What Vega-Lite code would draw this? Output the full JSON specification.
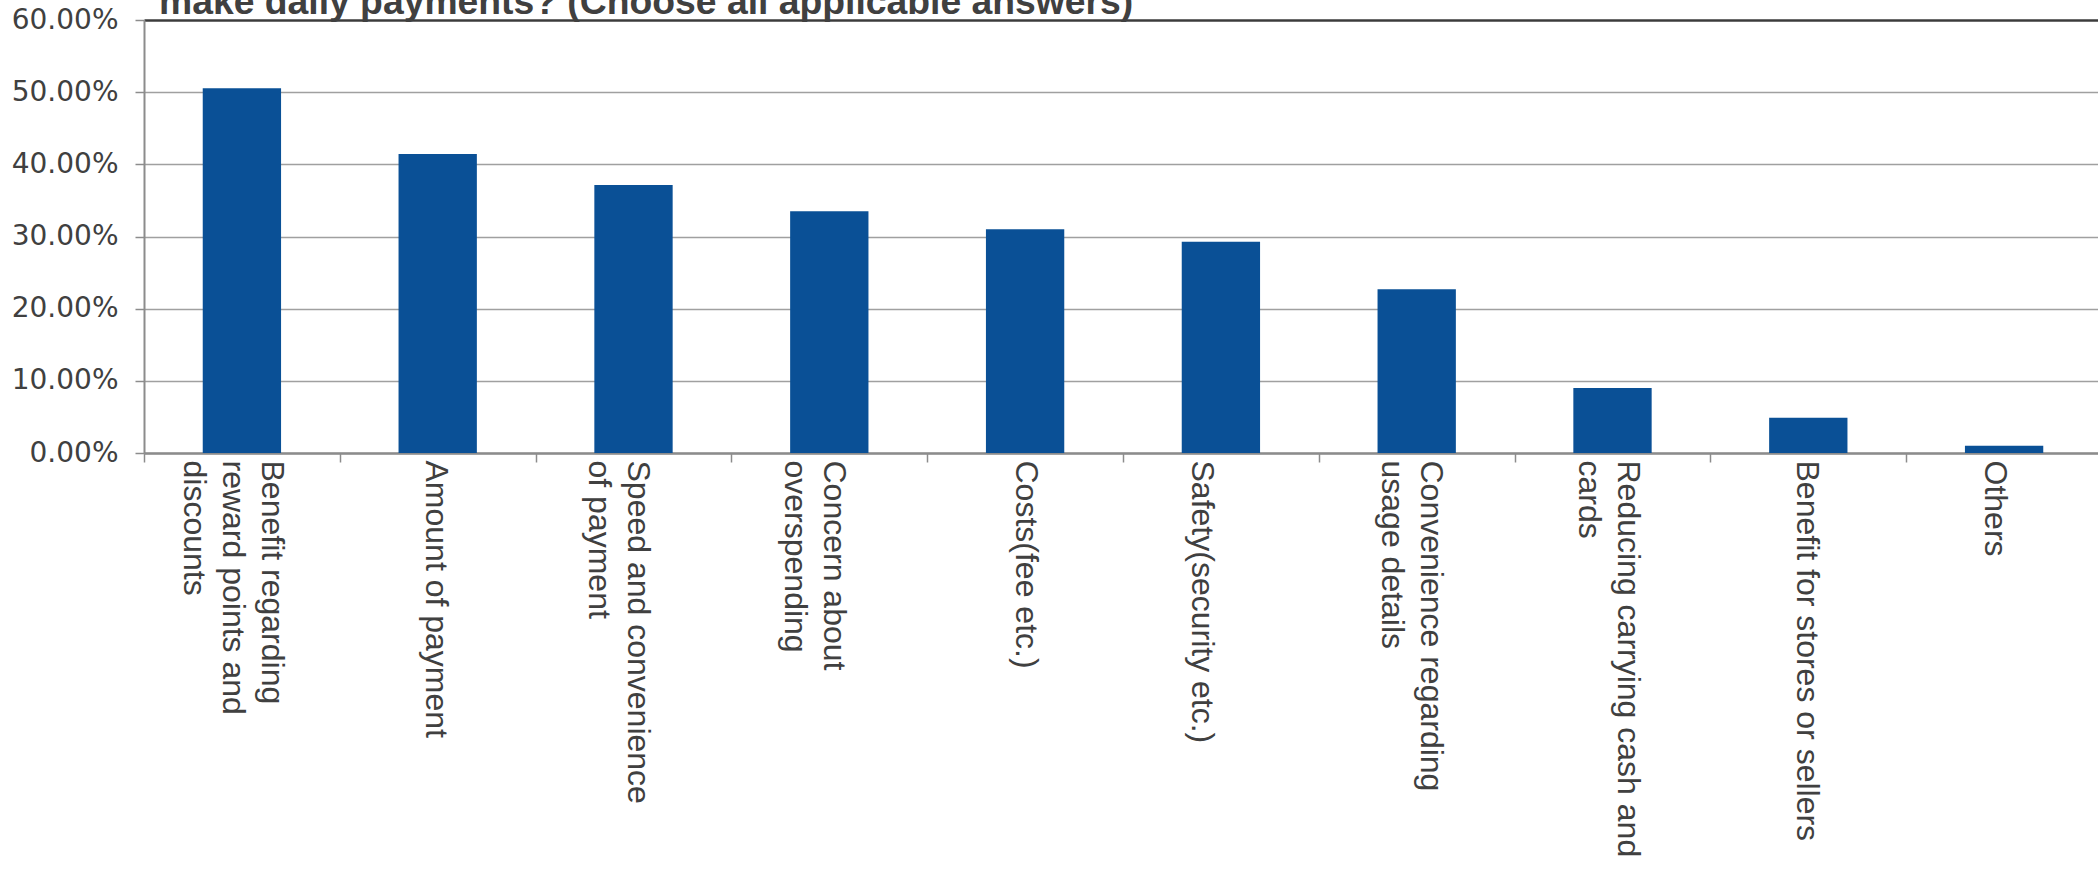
{
  "$schema": "https://vega.github.io/schema/vega-lite/v6.json",
  "width": 1958,
  "height": 433,
  "autosize": {"type": "none"},
  "padding": {"left": 144, "top": 20, "right": 0, "bottom": 424},
  "background": "white",
  "title": {
    "text": "make daily payments? (Choose all applicable answers)",
    "anchor": "start",
    "frame": "group",
    "dx": 15,
    "offset": -16,
    "font": "Liberation Sans",
    "fontSize": 37.3,
    "fontWeight": "bold",
    "color": "#404040"
  },
  "data": {
    "values": [
      {"reason": "Benefit regarding|reward points and|discounts", "share": 0.5054},
      {"reason": "Amount of payment", "share": 0.4144},
      {"reason": "Speed and convenience|of payment", "share": 0.3715},
      {"reason": "Concern about|overspending", "share": 0.335},
      {"reason": "Costs(fee etc.)", "share": 0.31},
      {"reason": "Safety(security etc.)", "share": 0.2926},
      {"reason": "Convenience regarding|usage details", "share": 0.227},
      {"reason": "Reducing carrying cash and|cards", "share": 0.09},
      {"reason": "Benefit for stores or sellers", "share": 0.0489},
      {"reason": "Others", "share": 0.0101}
    ]
  },
  "mark": {"type": "bar", "color": "#0a5096", "width": {"band": 0.4}},
  "encoding": {
    "x": {
      "field": "reason",
      "type": "nominal",
      "sort": null,
      "scale": {"paddingInner": 0, "paddingOuter": 0},
      "axis": {
        "title": null,
        "labelExpr": "split(datum.label, '|')",
        "labelAngle": 90,
        "labelAlign": "left",
        "labelBaseline": "middle",
        "labelFont": "Liberation Sans",
        "labelFontSize": 32,
        "labelLineHeight": 39,
        "labelColor": "#404040",
        "labelPadding": -2,
        "labelOffset": {
          "condition": [
            {"test": "datum.value === 'Benefit regarding|reward points and|discounts'", "value": 30},
            {"test": "datum.value === 'Amount of payment'", "value": -2.5},
            {"test": "datum.value === 'Speed and convenience|of payment'", "value": 4},
            {"test": "datum.value === 'Concern about|overspending'", "value": 4},
            {"test": "datum.value === 'Safety(security etc.)'", "value": -19},
            {"test": "datum.value === 'Convenience regarding|usage details'", "value": 14},
            {"test": "datum.value === 'Reducing carrying cash and|cards'", "value": 15},
            {"test": "datum.value === 'Benefit for stores or sellers'", "value": -1.5},
            {"test": "datum.value === 'Others'", "value": -9.5}
          ],
          "value": 0
        },
        "labelLimit": 0,
        "labelOverlap": false,
        "labelBound": false,
        "tickBand": "extent",
        "tickSize": 9,
        "tickColor": "#8c8c8c",
        "tickWidth": 1.5,
        "domainColor": "#8c8c8c",
        "domainWidth": 2.5
      }
    },
    "y": {
      "field": "share",
      "type": "quantitative",
      "scale": {"domain": [0, 0.6], "nice": false},
      "axis": {
        "title": null,
        "format": ".2%",
        "values": [0, 0.1, 0.2, 0.3, 0.4, 0.5, 0.6],
        "labelFont": "DejaVu Sans",
        "labelFontSize": 28,
        "labelColor": "#404040",
        "labelPadding": 17,
        "tickSize": 9,
        "tickColor": "#8c8c8c",
        "tickWidth": 1.5,
        "domainColor": "#8c8c8c",
        "domainWidth": 2,
        "grid": true,
        "gridColor": {"condition": {"test": "datum.value >= 0.6", "value": "#3c3c3c"}, "value": "#a0a0a0"},
        "gridWidth": {"condition": {"test": "datum.value >= 0.6", "value": 2.5}, "value": 1.5}
      }
    }
  },
  "config": {"view": {"stroke": null}}
}
